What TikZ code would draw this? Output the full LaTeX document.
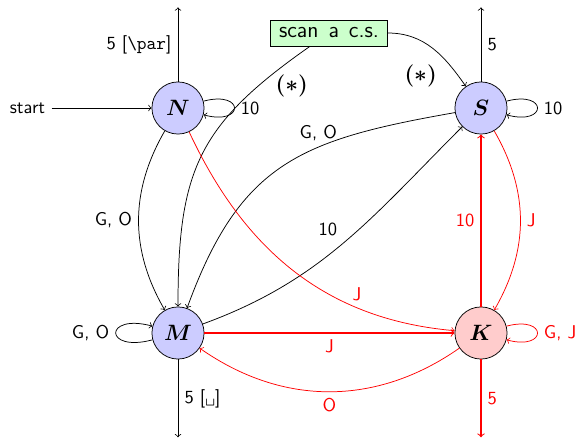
\documentclass[tikz,border=0pt]{standalone}
\usepackage{amsmath}
\usetikzlibrary{positioning}
\colorlet{myred}{red}
\colorlet{myblue}{blue!20}
\colorlet{mypink}{red!20}
\colorlet{mygreen}{green!20}

\begin{document}
\begin{tikzpicture}[x=0.019cm,y=-0.019cm,font=\sffamily,
    state/.style={circle,draw,minimum size=0.99cm,inner sep=0pt,font=\large},
    nstate/.style={state,fill=myblue},
    kstate/.style={state,fill=mypink},
    redge/.style={->,color=myred},
    rline/.style={redge,line width=0.56pt},
    star/.style={font=\large}]
    \useasboundingbox (0,0) rectangle (579,443);
    \node[nstate] (N) at (178,108) {$\boldsymbol{N}$};
    \node[nstate] (S) at (481,108) {$\boldsymbol{S}$};
    \node[nstate] (M) at (178,333) {$\boldsymbol{M}$};
    \node[kstate] (K) at (481,333) {$\boldsymbol{K}$};
    \node[draw,fill=mygreen,font=\large\sffamily,minimum height=0.49cm,inner xsep=4.5pt] (scan) at (329,33)
        {scan\hspace{0.45em}a\hspace{0.45em}c.s.};
    \node[left=1.9cm of N] (start) {start};
    \coordinate[above=1.41cm of N] (Ntop);
    \coordinate[above=1.41cm of S] (Stop);
    \coordinate[below=1.48cm of M] (Mbot);
    \coordinate[below=1.48cm of K] (Kbot);
    % black moves
    \draw[->] (start) -- (N);
    \draw[->] (N) -- node[left] {5 [\texttt{\textbackslash par}]} (Ntop);
    \draw[->] (N) to[loop right] node[right] {10} (N);
    \draw[->] (N) to[bend right=30] node[left] {G, O} (M);
    \draw[->] (scan) to[out=215,in=90,looseness=1.2] node[pos=0.18,right=6pt,star] {$\boldsymbol{(\ast)}$} (M);
    \draw[->] (scan) to[out=0,in=125] node[pos=0.65,below left,star] {$\boldsymbol{(\ast)}$} (S);
    \draw[->] (S) -- node[right] {5} (Stop);
    \draw[->] (S) to[loop right] node[right] {10} (S);
    \draw[->] (S) to[out=190,in=70,looseness=1.2] node[pos=0.37,above] {G, O} (M);
    \draw[->] (M) to[out=20,in=225] node[pos=0.5,above left] {10} (S);
    \draw[->] (M) to[loop left,looseness=9.5] node[left] {G, O} (M);
    \draw[->] (M) -- node[right] {5 [\texttt{\textvisiblespace}]} (Mbot);
    % red moves
    \draw[redge] (N) to[out=-65,in=175] node[pos=0.72,above] {J} (K);
    \draw[rline] (M) -- node[below] {J} (K);
    \draw[redge] (K) to[bend left=35] node[below] {O} (M);
    \draw[rline] (K) -- node[left] {10} (S);
    \draw[redge] (S) to[bend left=30] node[right] {J} (K);
    \draw[redge] (K) to[loop right] node[right] {G, J} (K);
    \draw[rline] (K) -- node[right] {5} (Kbot);
\end{tikzpicture}
\end{document}
